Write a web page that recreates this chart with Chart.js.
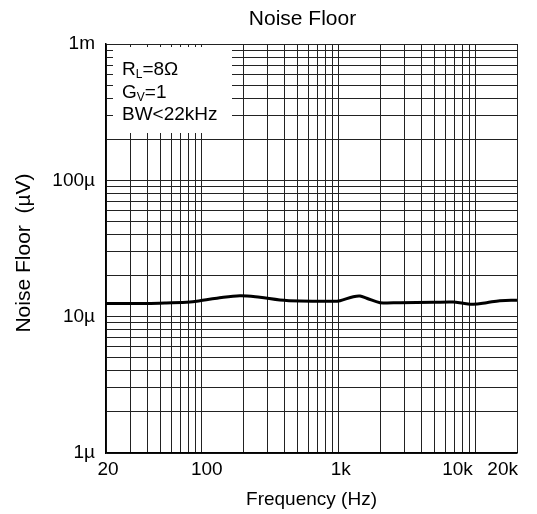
<!DOCTYPE html>
<html>
<head>
<meta charset="utf-8">
<script src="https://cdn.jsdelivr.net/npm/chart.js@4"></script>
<style>
  html, body { margin: 0; padding: 0; background: #fff; }
  #wrap { width: 537px; height: 514px; position: relative; }
</style>
</head>
<body>
<div id="wrap"><canvas id="c"></canvas></div>
<script>
// ---- data ----
const freqHz = [20, 40, 55, 82, 97, 129, 190, 266, 372, 521, 912, 1021, 1277, 1429, 1600, 2000, 2800, 4900, 6850, 8100, 9600, 12000, 15000, 20000];
const noiseUV = [12.5, 12.5, 12.6, 12.8, 13.1, 13.65, 14.25, 13.87, 13.26, 13.03, 12.97, 13.1, 14.0, 14.17, 13.65, 12.67, 12.67, 12.75, 12.8, 12.54, 12.33, 12.67, 13.1, 13.2];

const xGridValues = [20,30,40,50,60,70,80,90,100,200,300,400,500,600,700,800,900,1000,2000,3000,4000,5000,6000,7000,8000,9000,10000,20000];
const xTickValues = [20, 100, 1000, 10000, 20000];
const xTickLabels = ['20', '100', '1k', '10k', '20k'];

const yGridValues = [1,2,3,4,5,6,7,8,9,10,20,30,40,50,60,70,80,90,100,200,300,400,500,600,700,800,900,1000];
const yTickValues = [1, 10, 100, 1000];
const yTickLabels = ['1\u00b5', '10\u00b5', '100\u00b5', '1m'];

const chartTitle = 'Noise Floor';
const xTitle = 'Frequency (Hz)';
const yTitle = 'Noise Floor  (\u00b5V)';
const noteLines = [['R', 'L', '=8\u03a9'], ['G', 'V', '=1'], ['BW<22kHz', '', '']];

const FONT = '"Liberation Sans", Arial, Helvetica, sans-serif';

const points = freqHz.map((f, i) => ({ x: f, y: noiseUV[i] }));

const annotPlugin = {
  id: 'annot',
  beforeDatasetsDraw(chart) {
    const ctx = chart.ctx;
    const a = chart.chartArea;
    // white note box covering the grid
    ctx.save();
    ctx.fillStyle = '#fff';
    ctx.fillRect(a.left + 7, a.top + 3, 119, 86);
    ctx.fillStyle = '#000';
    ctx.textBaseline = 'alphabetic';
    ctx.textAlign = 'left';
    noteLines.forEach((ln, i) => {
      let x = a.left + 16;
      const y = a.top + 31 + i * 22.5;
      ctx.font = '19px ' + FONT;
      ctx.fillText(ln[0], x, y);
      x += ctx.measureText(ln[0]).width;
      if (ln[1]) {
        ctx.font = '12px ' + FONT;
        ctx.fillText(ln[1], x, y + 3);
        x += ctx.measureText(ln[1]).width;
      }
      if (ln[2]) {
        ctx.font = '19px ' + FONT;
        ctx.fillText(ln[2], x, y);
      }
    });
    ctx.restore();
  },
  afterDraw(chart) {
    const ctx = chart.ctx;
    const xs = chart.scales.x;
    const a = chart.chartArea;
    const offs = [2, 5, 2, -3, 1];
    const aligns = ['center', 'center', 'center', 'right', 'right'];
    ctx.save();
    ctx.fillStyle = '#000';
    ctx.font = '19px ' + FONT;
    ctx.textBaseline = 'middle';
    xTickValues.forEach((v, i) => {
      ctx.textAlign = aligns[i];
      ctx.fillText(xTickLabels[i], xs.getPixelForValue(v) + offs[i], a.bottom + 17);
    });
    // chart title
    ctx.textAlign = 'center';
    ctx.font = '21px ' + FONT;
    ctx.fillText(chartTitle, (a.left + a.right) / 2 - 9, 19);
    // y axis title
    ctx.translate(24, (a.top + a.bottom) / 2 + 4.5);
    ctx.rotate(-Math.PI / 2);
    ctx.fillText(yTitle, 0, 0);
    ctx.restore();
  }
};

new Chart(document.getElementById('c'), {
  type: 'line',
  data: {
    datasets: [{
      data: points,
      borderColor: '#000',
      borderWidth: 3,
      pointRadius: 0,
      tension: 0.35,
      fill: false
    }]
  },
  options: {
    responsive: true,
    maintainAspectRatio: false,
    animation: false,
    events: [],
    layout: { padding: { left: 0, right: 20, top: 44, bottom: 0 } },
    plugins: {
      legend: { display: false },
      tooltip: { enabled: false },
      title: { display: false }
    },
    scales: {
      x: {
        type: 'logarithmic',
        min: 20,
        max: 20000,
        afterBuildTicks: (s) => { s.ticks = xGridValues.map(v => ({ value: v })); },
        afterFit: (s) => { s.height = 61; },
        grid: { color: '#222', lineWidth: 1, drawTicks: false },
        border: { display: true, color: '#000', width: 1.5 },
        ticks: { display: false, autoSkip: false },
        title: {
          display: true,
          text: xTitle,
          color: '#000',
          font: { family: FONT, size: 19, lineHeight: 1.2 },
          padding: { top: 0, bottom: 3 }
        }
      },
      y: {
        type: 'logarithmic',
        min: 1,
        max: 1000,
        afterBuildTicks: (s) => { s.ticks = yGridValues.map(v => ({ value: v })); },
        afterFit: (s) => { s.width = 106; },
        grid: { color: '#222', lineWidth: 1, drawTicks: false },
        border: { display: true, color: '#000', width: 1.5 },
        ticks: {
          autoSkip: false,
          color: '#000',
          padding: 11,
          font: { family: FONT, size: 19 },
          callback: (v) => { const k = yTickValues.indexOf(v); return k >= 0 ? yTickLabels[k] : ''; }
        },
        title: { display: false }
      }
    }
  },
  plugins: [annotPlugin]
});
</script>
</body>
</html>
